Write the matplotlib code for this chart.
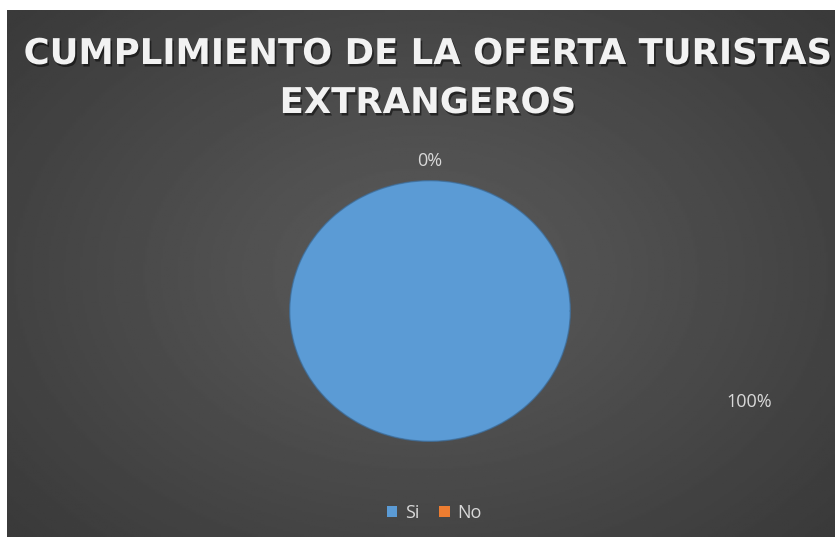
import numpy as np
import matplotlib.pyplot as plt
import matplotlib.patheffects as pe

# data
categories = ['Si', 'No']
values = [100, 0]
pct_labels = ['100%', '0%']
colors = ['#5B9BD5', '#ED7D31']
title_lines = ['CUMPLIMIENTO DE LA OFERTA TURISTAS', 'EXTRANGEROS']

W, H = 835, 543
fig = plt.figure(figsize=(W / 100, H / 100), dpi=100)
fig.patch.set_facecolor('white')

# dark chart area with radial gradient
bg = fig.add_axes([7 / W, 6 / H, 828 / W, 527 / H])
yy, xx = np.mgrid[-1:1:300j, -1:1:400j]
r = np.sqrt(xx ** 2 + (yy * 0.9) ** 2)
shade = 0.36 - 0.13 * np.clip(r / 1.3, 0, 1)
bg.imshow(shade, cmap='gray', vmin=0, vmax=1, aspect='auto', extent=[0, 1, 0, 1])
bg.set_axis_off()

# title: one text per line, size fitted so the first line spans the chart width
renderer = fig.canvas.get_renderer()
shadow = [pe.withSimplePatchShadow(offset=(1.2, -1.8), shadow_rgbFace='black', alpha=0.5)]
kw = dict(fontweight='bold', family='DejaVu Sans', color='#f2f2f2', ha='center', va='center')
probe = fig.text(0, 0, title_lines[0], fontsize=20, **kw)
w20 = probe.get_window_extent(renderer).width
probe.remove()
tsize = 20 * 806 / w20
for line, yc in zip(title_lines, [54, 103]):
    fig.text(428 / W, 1 - yc / H, line, fontsize=tsize, path_effects=shadow, **kw)

# pie (slightly wider than tall, as in the picture)
cx, cy, rx, ry = 430, 311, 141, 131
ax = fig.add_axes([(cx - rx) / W, 1 - (cy + ry) / H, 2 * rx / W, 2 * ry / H])
wedges, _ = ax.pie(values, colors=colors, startangle=90, counterclock=False,
                   wedgeprops=dict(linewidth=0))
ax.set_aspect('auto')
ax.set_xlim(-1.005, 1.005)
ax.set_ylim(-1.005, 1.005)
ax.set_axis_off()
t = np.linspace(0, 2 * np.pi, 400)
ax.plot(np.cos(t), np.sin(t), color='#3d6e9c', lw=1.0, alpha=0.7)

# data labels
fig.text(430 / W, 1 - 161 / H, pct_labels[1], ha='center', va='center',
         fontsize=13, color='#d9d9d9', family='Open Sans')
fig.text(749 / W, 1 - 402 / H, pct_labels[0], ha='center', va='center',
         fontsize=13, color='#d9d9d9', family='Open Sans')

# legend
fig.legend(wedges, categories, loc='center', bbox_to_anchor=(434 / W, 1 - 513 / H),
           ncol=2, frameon=False, handlelength=0.6, handleheight=0.6,
           handletextpad=0.4, columnspacing=1.1, labelcolor='#d9d9d9',
           prop=dict(family='Open Sans', size=13))

fig.savefig('out.png', dpi=100, facecolor='white')
